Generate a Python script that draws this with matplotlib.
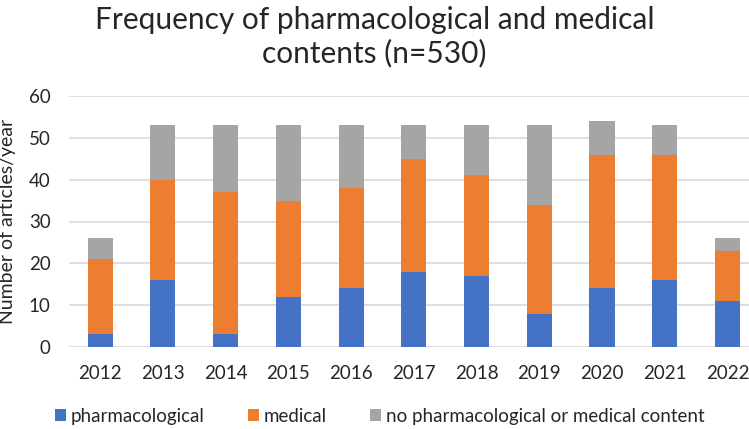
import matplotlib.pyplot as plt
import numpy as np

# datos
years = ['2012', '2013', '2014', '2015', '2016', '2017', '2018', '2019', '2020', '2021', '2022']
pharmacological = [3, 16, 3, 12, 14, 18, 17, 8, 14, 16, 11]
medical = [18, 24, 34, 23, 24, 27, 24, 26, 32, 30, 12]
no_content = [5, 13, 16, 18, 15, 8, 12, 19, 8, 7, 3]

colores = {'pharm': '#4472C4', 'med': '#ED7D31', 'none': '#A5A5A5'}

plt.rcParams['font.family'] = ['Lato', 'DejaVu Sans']

fig = plt.figure(figsize=(7.49, 4.29), dpi=100)
ax = fig.add_axes([68.8 / 749, 82 / 429, 690 / 749, 251 / 429])

x = np.arange(len(years))
w = 0.4
pharm = np.array(pharmacological)
med = np.array(medical)
ax.bar(x, pharm, w, color=colores['pharm'], label='pharmacological', zorder=3)
ax.bar(x, med, w, bottom=pharm, color=colores['med'], label='medical', zorder=3)
ax.bar(x, no_content, w, bottom=pharm + med, color=colores['none'],
       label='no pharmacological or medical content', zorder=3)

ax.set_xlim(-0.5, len(years) - 0.5)
ax.set_ylim(0, 60)
ax.set_yticks(range(0, 61, 10))
ax.set_xticks(x)
ax.set_xticklabels(years)
ax.tick_params(axis='both', length=0, labelsize=13.5, colors='#262626')
ax.tick_params(axis='x', pad=13)
ax.tick_params(axis='y', pad=13)
ax.grid(axis='y', color='#d9d9d9', linewidth=1.2, zorder=0)
for s in ax.spines.values():
    s.set_visible(False)

ax.set_ylabel('Number of articles/year', fontsize=14, color='#262626', labelpad=9)

fig.text(0.5, 0.985, 'Frequency of pharmacological and medical\ncontents (n=530)',
         ha='center', va='top', fontsize=21.5, color='#262626', linespacing=1.2)

fig.legend(loc='center', bbox_to_anchor=(0.507, 0.03), ncol=3, frameon=False,
           fontsize=13.5, handlelength=0.6, handleheight=0.6, columnspacing=2.3,
           handletextpad=0.25, labelcolor='#262626')

fig.savefig('out.png', dpi=100)
